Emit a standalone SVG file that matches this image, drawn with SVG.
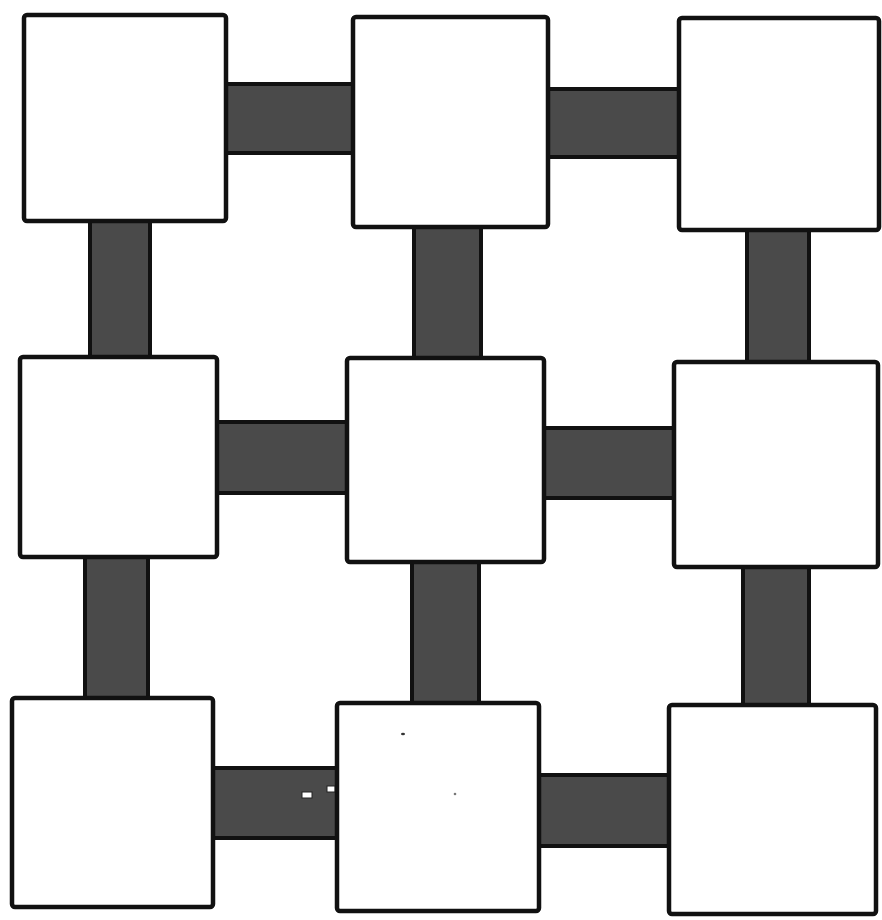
<svg xmlns="http://www.w3.org/2000/svg" width="882" height="920" viewBox="0 0 882 920">
<style>
.box{fill:#fff;stroke:#111;stroke-width:4.5;stroke-linejoin:round}
.bar{fill:#4a4a4a;stroke:#111;stroke-width:4}
</style>
<rect width="882" height="920" fill="#fff"/>
<g id="connectors">
<rect class="bar" x="222" y="84" width="134" height="69"/>
<rect class="bar" x="544" y="89" width="138" height="68"/>
<rect class="bar" x="212" y="422" width="138" height="71"/>
<rect class="bar" x="540" y="428" width="138" height="70"/>
<rect class="bar" x="208" y="768" width="132" height="70"/>
<rect class="bar" x="535" y="775" width="138" height="71"/>
<rect class="bar" x="90" y="216" width="60" height="144"/>
<rect class="bar" x="414" y="222" width="67" height="140"/>
<rect class="bar" x="747" y="225" width="62" height="140"/>
<rect class="bar" x="85" y="552" width="63" height="150"/>
<rect class="bar" x="412" y="558" width="67" height="148"/>
<rect class="bar" x="743" y="563" width="66" height="146"/>
<rect x="302" y="792" width="10" height="6" fill="#fff" stroke="#222" stroke-width="1"/>
<rect x="327" y="786" width="8" height="6" fill="#fff" stroke="#222" stroke-width="1"/>
</g>
<g id="n11"><rect class="box" x="24" y="15" width="202" height="206" rx="3"/></g>
<g id="n12"><rect class="box" x="353" y="17" width="195" height="210" rx="3"/></g>
<g id="n13"><rect class="box" x="679" y="18" width="200" height="212" rx="3"/></g>
<g id="n21"><rect class="box" x="20" y="357" width="197" height="200" rx="3"/></g>
<g id="n22"><rect class="box" x="347" y="358" width="197" height="204" rx="3"/></g>
<g id="n23"><rect class="box" x="674" y="362" width="204" height="205" rx="3"/></g>
<g id="n31"><rect class="box" x="12" y="698" width="201" height="209" rx="3"/></g>
<g id="n32"><rect class="box" x="337" y="703" width="202" height="208" rx="3"/></g>
<g id="n33"><rect class="box" x="669" y="705" width="207" height="209" rx="3"/></g>
<ellipse cx="403" cy="734" rx="2" ry="1.3" fill="#333"/>
<circle cx="455" cy="794" r="1.3" fill="#777"/>
</svg>
